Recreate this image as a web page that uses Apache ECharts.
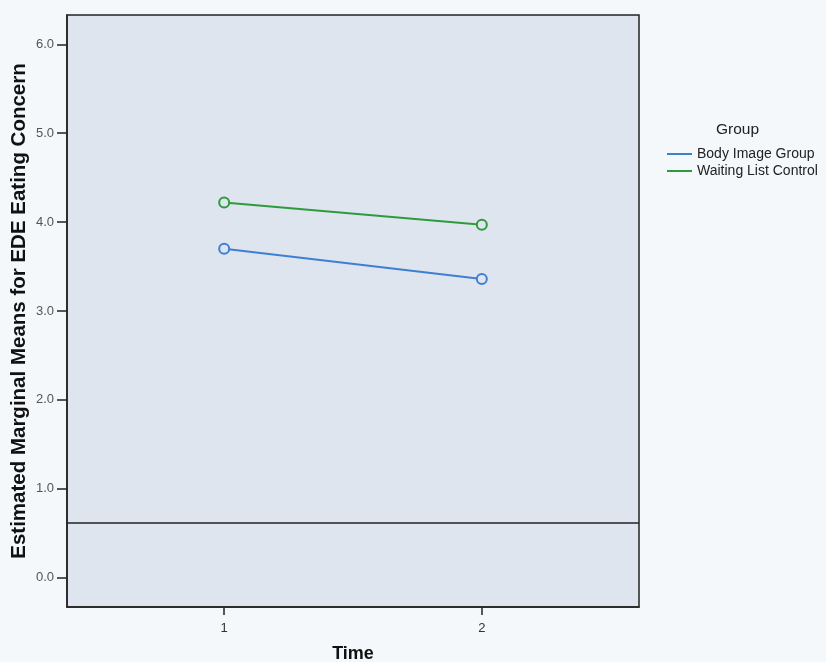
<!DOCTYPE html>
<html>
<head>
<meta charset="utf-8">
<style>
  html, body { margin: 0; padding: 0; background: #f4f8fb; }
  #chart { width: 826px; height: 662px; }
</style>
<script src="https://cdn.jsdelivr.net/npm/echarts@6/dist/echarts.min.js"></script>
</head>
<body>
<div id="chart"></div>
<script>
// Estimated marginal means of EDE Eating Concern by time and group
const timePoints = [1, 2];
const groupNames = ['Body Image Group', 'Waiting List Control'];
const bodyImage = [3.70, 3.36];
const waitingList = [4.22, 3.97];
const yTicks = [0, 1, 2, 3, 4, 5, 6];
const referenceValue = 0.62;

const blue = '#3f7fd2';
const green = '#2f9a3c';
const plotBg = '#dfe5ee';
const font = 'Liberation Sans, Arial, sans-serif';

function pairs(values) {
  return timePoints.map((t, i) => [t, values[i]]);
}

const chart = echarts.init(document.getElementById('chart'), null, { renderer: 'canvas' });

const lineSeries = (name, values, color, extra) => Object.assign({
  name: name,
  type: 'line',
  data: pairs(values),
  symbol: 'circle',
  symbolSize: 10,
  showSymbol: true,
  lineStyle: { color: color, width: 2 },
  itemStyle: { color: plotBg, borderColor: color, borderWidth: 2 },
  emphasis: { disabled: true },
  animation: false
}, extra || {});

chart.setOption({
  backgroundColor: '#f4f8fb',
  animation: false,
  title: {
    text: 'Group',
    left: 716,
    top: 122,
    padding: 0,
    textStyle: { fontFamily: font, fontSize: 15.5, fontWeight: 'normal', color: '#222' }
  },
  legend: {
    orient: 'vertical',
    left: 667,
    top: 147,
    padding: 0,
    itemWidth: 25,
    itemHeight: 2,
    itemGap: 3,
    icon: 'rect',
    data: groupNames.map((n, i) => ({ name: n, itemStyle: { color: i === 0 ? blue : green, borderWidth: 0 } })),
    textStyle: { fontFamily: font, fontSize: 14, color: '#222' }
  },
  grid: {
    left: 67, right: 187, top: 15, bottom: 55,
    outerBoundsMode: 'none',
    containLabel: false,
    show: true,
    backgroundColor: plotBg,
    borderColor: '#222',
    borderWidth: 1.5
  },
  xAxis: {
    type: 'value',
    min: 0.39,
    max: 2.61,
    name: 'Time',
    nameLocation: 'middle',
    nameGap: 38,
    nameMoveOverlap: false,
    nameTextStyle: { fontFamily: font, fontSize: 18, fontWeight: 'bold', color: '#111' },
    splitLine: { show: false },
    axisLine: { show: true, onZero: false, lineStyle: { color: '#222', width: 1.5 } },
    axisTick: { show: true, customValues: timePoints, length: 8, lineStyle: { color: '#222', width: 1.5 } },
    axisLabel: {
      customValues: timePoints,
      margin: 15,
      fontFamily: font,
      fontSize: 13,
      color: '#333',
      formatter: v => String(v)
    }
  },
  yAxis: {
    type: 'value',
    min: -0.33,
    max: 6.33,
    name: 'Estimated Marginal Means for EDE Eating Concern',
    nameLocation: 'middle',
    nameGap: 37,
    nameMoveOverlap: false,
    nameTextStyle: { fontFamily: font, fontSize: 20.5, fontWeight: 'bold', color: '#111' },
    splitLine: { show: false },
    axisLine: { show: true, onZero: false, lineStyle: { color: '#222', width: 1.5 } },
    axisTick: { show: true, customValues: yTicks, length: 10, lineStyle: { color: '#222', width: 1.5 } },
    axisLabel: {
      customValues: yTicks,
      margin: 13,
      fontFamily: font,
      fontSize: 13,
      color: '#555',
      formatter: v => v.toFixed(1)
    }
  },
  series: [
    lineSeries(groupNames[0], bodyImage, blue, {
      markLine: {
        silent: true,
        symbol: 'none',
        label: { show: false },
        lineStyle: { color: '#222', width: 1.5, type: 'solid' },
        data: [{ yAxis: referenceValue }]
      }
    }),
    lineSeries(groupNames[1], waitingList, green)
  ]
});
</script>
</body>
</html>
